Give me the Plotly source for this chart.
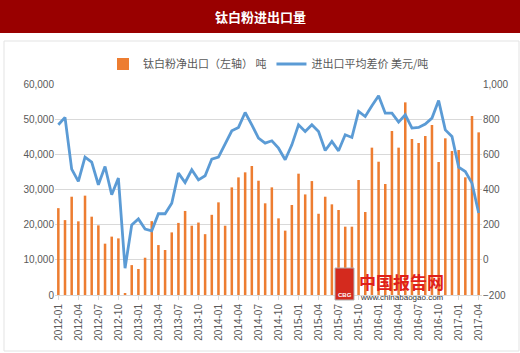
import plotly.graph_objects as go

months = [f"{y}-{m:02d}" for y in range(2012, 2018) for m in range(1, 13)][:64]

net_export = [24700, 21300, 27950, 20950, 28250, 22270, 19800, 14600, 16600, 16100,
              500, 8500, 7400, 10600, 21000, 14200, 12800, 17800, 20500, 23900,
              19700, 20600, 17300, 22800, 26350, 19700, 30600, 33450, 34880, 36680,
              32500, 26070, 30610, 21800, 18300, 25600, 34500, 28600, 32400, 23100,
              27950, 25780, 24170, 19430, 19430, 32700, 23600, 41900, 37900, 31560,
              46630, 41900, 54780, 44360, 43220, 45210, 48340, 37820, 44550, 40940,
              41230, 33460, 50900, 46250]

price_gap = [768, 810, 516, 446, 584, 556, 427, 531, 370, 465,
             -48, 199, 233, 175, 165, 262, 262, 322, 493, 440,
             512, 455, 478, 573, 584, 660, 734, 753, 838, 768,
             692, 664, 677, 635, 569, 654, 768, 730, 768, 730,
             622, 673, 620, 711, 696, 844, 815, 876, 933, 834,
             834, 783, 825, 749, 753, 772, 806, 906, 739, 701,
             527, 502, 436, 266]

tick_labels = months[::3]

bar_name = "钛白粉净出口（左轴） 吨"
line_name = "进出口平均差价 美元/吨"
title_text = "钛白粉进出口量"

font_cjk = "Noto Sans CJK SC"

fig = go.Figure()
fig.add_trace(go.Bar(x=months, y=net_export, name=bar_name,
                     marker=dict(color="#ED7D31", line=dict(width=0)),
                     width=0.38, yaxis="y"))
fig.add_trace(go.Scatter(x=months, y=price_gap, name=line_name, mode="lines",
                         line=dict(color="#5B9BD5", width=2.8), yaxis="y2"))

L, R, T, B = 55, 38, 84, 58
W, H = 520, 353
pw = W - L - R
ph = H - T - B

def px(X):
    return (X - L) / pw

def py(Y):
    return (H - B - Y) / ph

shapes = [
    dict(type="rect", xref="paper", yref="paper", x0=px(0), x1=px(520), y0=py(0), y1=py(33),
         fillcolor="#990000", line=dict(width=0), layer="below"),
    dict(type="rect", xref="paper", yref="paper", x0=px(4), x1=px(519), y0=py(41), y1=py(351),
         fillcolor="rgba(0,0,0,0)", line=dict(color="#E3E3E3", width=1), layer="below"),
    dict(type="rect", xref="paper", yref="paper", x0=px(335), x1=px(354), y0=py(268), y1=py(300),
         fillcolor="#D42A1E", line=dict(color="#B0B0B0", width=1), layer="above"),
]

annotations = [
    dict(text=f"<b>{title_text}</b>", xref="paper", yref="paper", x=px(260), y=py(16),
         showarrow=False, font=dict(family=font_cjk, size=13, color="white"),
         xanchor="center", yanchor="middle"),
    dict(text="<b>中国报告网</b>", xref="paper", yref="paper", x=px(357), y=py(281),
         showarrow=False, font=dict(family=font_cjk, size=17, color="#E0201A"),
         xanchor="left", yanchor="middle"),
    dict(text="www.chinabaogao.com", xref="paper", yref="paper", x=px(358), y=py(297),
         showarrow=False, font=dict(family="Arial", size=8, color="#333333"),
         xanchor="left", yanchor="middle"),
    dict(text="<b>CBG</b>", xref="paper", yref="paper", x=px(344.5), y=py(295),
         showarrow=False, font=dict(family="Arial", size=6, color="white"),
         xanchor="center", yanchor="middle"),
]

fig.update_layout(
    width=W, height=H,
    margin=dict(l=L, r=R, t=T, b=B),
    paper_bgcolor="white", plot_bgcolor="white",
    font=dict(family=font_cjk, color="#595959", size=10),
    showlegend=True,
    legend=dict(orientation="h", x=0.5, xanchor="center", y=py(64), yanchor="middle",
                font=dict(family=font_cjk, size=11, color="#595959"),
                bgcolor="rgba(0,0,0,0)", itemwidth=30, tracegroupgap=0),
    xaxis=dict(type="category", range=[-0.5, 63.5], tickmode="array",
               tickvals=tick_labels, ticktext=tick_labels, tickangle=-90,
               tickfont=dict(family="Liberation Sans", size=10, color="#595959"),
               showgrid=False, showline=True, linecolor="#D9D9D9",
               ticks="outside", ticklen=4, tickcolor="#D9D9D9"),
    yaxis=dict(range=[0, 60000], dtick=10000, tickformat=",",
               gridcolor="#D9D9D9", gridwidth=1, zeroline=False,
               tickfont=dict(family="Liberation Sans", size=10, color="#595959"),
               ticks="", showline=False),
    yaxis2=dict(range=[-200, 1000], dtick=200, tickformat=",", overlaying="y", side="right",
                showgrid=False, zeroline=False,
                tickfont=dict(family="Liberation Sans", size=10, color="#595959"),
                ticks="", showline=False),
    shapes=shapes,
    annotations=annotations,
)

fig.write_html("out.html")
